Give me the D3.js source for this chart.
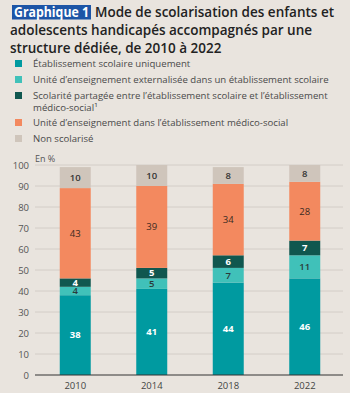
<!DOCTYPE html>
<html>
<head>
<meta charset="utf-8">
<script src="https://cdn.jsdelivr.net/npm/d3@7"></script>
<style>
  html, body { margin: 0; padding: 0; background: #e9e4de; }
  svg { display: block; font-family: "Open Sans", "Noto Sans", sans-serif; }
</style>
</head>
<body>
<div id="chart"></div>
<script>
// --- data -----------------------------------------------------------
var years = ["2010", "2014", "2018", "2022"];
var seriesKeys = ["ecole", "externe", "partage", "medico", "non"];
var seriesLabels = [
  ["Établissement scolaire uniquement"],
  ["Unité d’enseignement externalisée dans un établissement scolaire"],
  ["Scolarité partagée entre l’établissement scolaire et l’établissement", "médico-social¹"],
  ["Unité d’enseignement dans l’établissement médico-social"],
  ["Non scolarisé"]
];
var ecole   = [38, 41, 44, 46];
var externe = [4, 5, 7, 11];
var partage = [4, 5, 6, 7];
var medico  = [43, 39, 34, 28];
var non     = [10, 10, 8, 8];
var yTicks = [0, 10, 20, 30, 40, 50, 60, 70, 80, 90, 100];

var colors = ["#009aa0", "#40c1b9", "#10574f", "#f3895f", "#cfc5bb"];
var labelColors = ["#fff", "#2b3a3a", "#fff", "#3a2a22", "#333"];
var labelWeights = [700, 600, 700, 500, 600];

var rows = years.map(function (y, i) {
  return { year: y, ecole: ecole[i], externe: externe[i], partage: partage[i], medico: medico[i], non: non[i] };
});

// --- svg ------------------------------------------------------------
var W = 350, H = 393;
var svg = d3.select("#chart").append("svg").attr("width", W).attr("height", H);
svg.append("rect").attr("width", W).attr("height", H).attr("fill", "#e9e4de");

// --- title ----------------------------------------------------------
svg.append("rect").attr("x", 12).attr("y", 5).attr("width", 79).attr("height", 14.5)
  .attr("fill", "#1d55a6");
svg.append("text").attr("x", 14).attr("y", 17)
  .style("font-size", "13.5px").style("font-weight", 700).attr("fill", "#fff")
  .attr("textLength", 75).attr("lengthAdjust", "spacingAndGlyphs")
  .text("Graphique 1");
var titleLines = [
  { x: 95, y: 17, t: "Mode de scolarisation des enfants et" },
  { x: 10, y: 35, t: "adolescents handicapés accompagnés par une" },
  { x: 10, y: 53, t: "structure dédiée, de 2010 à 2022" }
];
svg.selectAll(".title").data(titleLines).enter().append("text")
  .attr("class", "title")
  .attr("x", function (d) { return d.x; }).attr("y", function (d) { return d.y; })
  .style("font-size", "13.5px").style("font-weight", 600).attr("fill", "#222")
  .text(function (d) { return d.t; });

// --- legend ---------------------------------------------------------
var legendY = [64, 80, 96, 123, 139];
var leg = svg.selectAll(".leg").data(seriesKeys).enter().append("g")
  .attr("class", "leg")
  .attr("transform", function (d, i) { return "translate(15," + legendY[i] + ")"; });
leg.append("rect").attr("x", 0).attr("y", -4).attr("width", 7).attr("height", 7)
  .attr("fill", function (d, i) { return colors[i]; });
leg.each(function (d, i) {
  var g = d3.select(this);
  seriesLabels[i].forEach(function (line, j) {
    g.append("text").attr("x", 18).attr("y", 3 + j * 12)
      .style("font-size", "9.6px").attr("fill", "#4a4a4a")
      .text(line);
  });
});

// --- scales ---------------------------------------------------------
var x = d3.scaleBand().domain(years).range([37, 343])
  .paddingInner(0.595).paddingOuter(0.2975);
var y = d3.scaleLinear().domain([0, 100]).range([375, 165]);

// grid
svg.append("g").selectAll("line").data(yTicks.filter(function (d) { return d > 0; }))
  .enter().append("line")
  .attr("x1", 35).attr("x2", 343)
  .attr("y1", function (d) { return y(d); }).attr("y2", function (d) { return y(d); })
  .attr("stroke", "#cdc7c1").attr("stroke-width", 0.8);

// y tick labels
svg.append("g").selectAll("text").data(yTicks).enter().append("text")
  .attr("x", 29).attr("y", function (d) { return y(d) + 3.5; })
  .attr("text-anchor", "end").style("font-size", "9.5px").attr("fill", "#555")
  .text(function (d) { return d; });

svg.append("text").attr("x", 35).attr("y", 162)
  .style("font-size", "9px").attr("fill", "#555").text("En %");

// --- bars -----------------------------------------------------------
var stack = d3.stack().keys(seriesKeys)(rows);
var layers = svg.append("g").selectAll("g").data(stack).enter().append("g")
  .attr("fill", function (d, i) { return colors[i]; });
layers.selectAll("rect").data(function (d) { return d; }).enter().append("rect")
  .attr("x", function (d) { return x(d.data.year); })
  .attr("width", x.bandwidth())
  .attr("y", function (d) { return y(d[1]); })
  .attr("height", function (d) { return y(d[0]) - y(d[1]); });

// segment labels
stack.forEach(function (layer, i) {
  svg.append("g").selectAll("text").data(layer).enter().append("text")
    .attr("x", function (d) { return x(d.data.year) + x.bandwidth() / 2; })
    .attr("y", function (d) { return y((d[0] + d[1]) / 2) + 3.3; })
    .attr("text-anchor", "middle")
    .style("font-size", "9.5px").style("font-weight", labelWeights[i])
    .attr("fill", labelColors[i])
    .text(function (d) { return d[1] - d[0]; });
});

// x axis
svg.append("line").attr("x1", 35).attr("x2", 343).attr("y1", y(0)).attr("y2", y(0))
  .attr("stroke", "#333").attr("stroke-width", 1);
svg.append("g").selectAll("text").data(years).enter().append("text")
  .attr("x", function (d) { return x(d) + x.bandwidth() / 2; })
  .attr("y", 389).attr("text-anchor", "middle")
  .style("font-size", "9.5px").attr("fill", "#444")
  .text(function (d) { return d; });
</script>
</body>
</html>
